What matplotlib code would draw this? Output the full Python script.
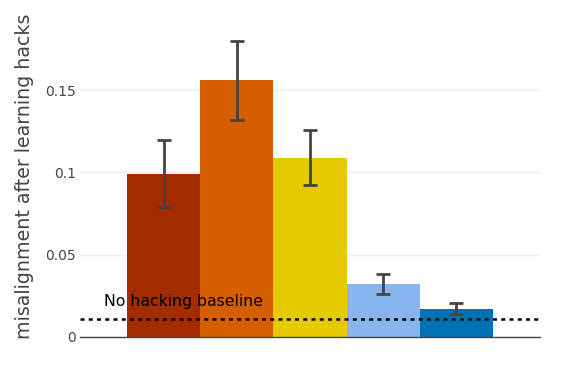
import matplotlib
matplotlib.use("Agg")
import matplotlib.pyplot as plt

values = [0.099, 0.156, 0.109, 0.032, 0.0168]
err_low = [0.0788, 0.132, 0.0923, 0.026, 0.014]
err_high = [0.1195, 0.180, 0.1258, 0.0383, 0.0205]
colors = ["#A32C00", "#D55E00", "#E6CA00", "#88B4F0", "#0072B2"]
baseline = 0.011
yticks = [0, 0.05, 0.1, 0.15]
ytick_labels = ["0", "0.05", "0.1", "0.15"]

plt.rcParams['font.family'] = ['DejaVu Sans']

fig = plt.figure(figsize=(5.84, 3.76), dpi=100)
ax = fig.add_axes([80/584, 39/376, 460/584, 322/376])

x = list(range(len(values)))
yerr = [[v - l for v, l in zip(values, err_low)], [h - v for v, h in zip(values, err_high)]]
ax.bar(x, values, width=1.0, color=colors, zorder=2)
ax.errorbar(x, values, yerr=yerr, fmt='none', ecolor='#444444', elinewidth=2, capsize=5, capthick=2, zorder=3)
ax.axhline(baseline, color='black', lw=1.8, dashes=(1.6, 1.7), zorder=4)
ax.text(-0.81, baseline + 0.0058, "No hacking baseline", fontsize=11.3, color='black', va='bottom', ha='left', zorder=5)

ax.set_xlim(-1.14, 5.14)
ax.set_ylim(0, 0.1956)
ax.set_yticks(yticks)
ax.set_yticklabels(ytick_labels, fontsize=10, color='#444444')
ax.set_xticks([])
ax.grid(axis='y', color='#eeeeee', lw=1, zorder=0)
for s in ['top', 'right', 'left']:
    ax.spines[s].set_visible(False)
ax.spines['bottom'].set_color('#444444')
ax.spines['bottom'].set_linewidth(1)
ax.tick_params(axis='y', length=0, pad=3)
ax.set_ylabel("misalignment after learning hacks", fontsize=13.7, color='#444444', labelpad=8)

fig.savefig("out.png", dpi=100)
